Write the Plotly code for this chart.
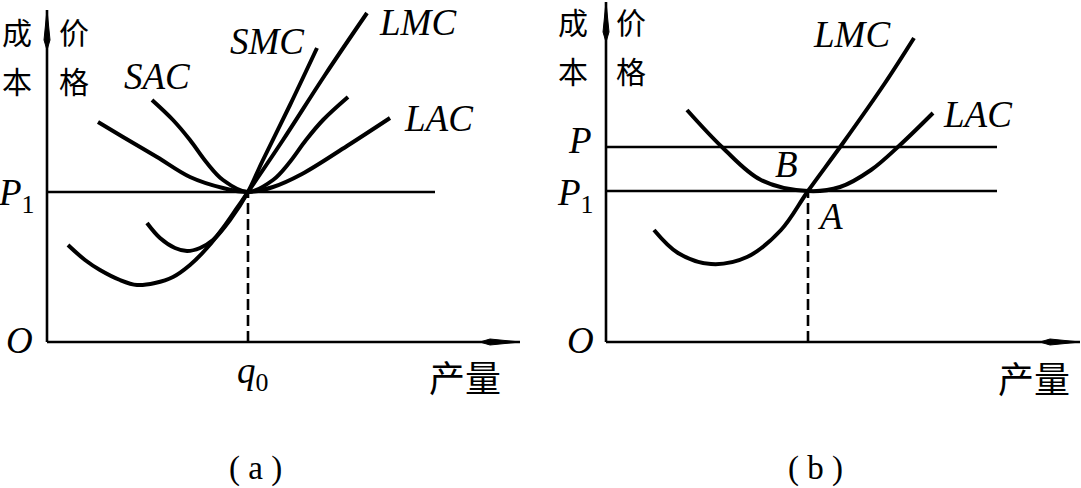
import plotly.graph_objects as go

# ---------------- data (origin O = (0,0); quantity to the right, cost up) -------------
# panel (a)
a_axis_q_max = 473
a_axis_c_max = 332
a_p1 = 150
a_line_end = 388
a_q0 = 201

a_lac_q = [51, 76, 110, 143, 176, 201, 226, 255, 300, 343]
a_lac_c = [220, 205, 185, 165, 154, 150, 155, 168, 196, 224]

a_sac_q = [105, 126, 143, 160, 176, 201, 226, 242, 259, 276, 301]
a_sac_c = [242, 222, 202, 179, 162, 150, 162, 179, 202, 222, 245]

a_smc_q = [100, 113, 128, 140, 153, 166, 183, 201, 215, 243, 270]
a_smc_c = [119, 104, 94, 91, 94, 102, 122, 150, 180, 237, 294]

a_lmc_q = [21, 38, 53, 73, 90, 108, 126, 143, 160, 176, 190, 201, 236, 278, 320]
a_lmc_c = [97, 82, 72, 62, 57, 59, 65, 77, 94, 114, 134, 150, 202, 267, 329]

# panel (b)
b_axis_q_max = 474
b_axis_c_max = 340
b_p = 195
b_p1 = 151
b_line_end = 391
b_qA = 202

b_lac_q = [81, 117, 155, 202, 234, 265, 294, 327]
b_lac_c = [232, 194, 162, 151, 155, 172, 197, 229]

b_lmc_q = [48, 72, 105, 141, 175, 202, 237, 279, 308]
b_lmc_c = [112, 89, 78, 85, 112, 151, 199, 259, 304]

# ---------------- figure ----------------
W, H = 1081, 488
SPLIT = 540
fig = go.Figure()

BLACK = "#000000"
CURVE_W = 4.0
THIN_W = 2.6


def add_line(q, c, xa, ya, width, dash="solid", shape="linear"):
    fig.add_trace(go.Scatter(x=q, y=c, xaxis=xa, yaxis=ya, mode="lines",
                             line=dict(color=BLACK, width=width, dash=dash, shape=shape),
                             hoverinfo="skip", showlegend=False))


def add_panel(xa, ya, qmax, cmax):
    add_line([0, 0], [0, cmax], xa, ya, THIN_W)
    add_line([0, qmax], [0, 0], xa, ya, THIN_W)
    fig.add_shape(type="path", xref=xa, yref=ya,
                  path=f"M 0 {cmax} L 3 {cmax-30} L 0 {cmax-40} L -3 {cmax-30} Z",
                  fillcolor=BLACK, line=dict(color=BLACK, width=1))
    fig.add_shape(type="path", xref=xa, yref=ya,
                  path=f"M {qmax} 0 L {qmax-30} 3 L {qmax-40} 0 L {qmax-30} -3 Z",
                  fillcolor=BLACK, line=dict(color=BLACK, width=1))


# panel (a)
add_panel("x", "y", a_axis_q_max, a_axis_c_max)
add_line([0, a_line_end], [a_p1, a_p1], "x", "y", THIN_W)
add_line([a_q0, a_q0], [0, a_p1], "x", "y", THIN_W, dash="11px,5px")
for q, c in [(a_lac_q, a_lac_c), (a_sac_q, a_sac_c), (a_smc_q, a_smc_c), (a_lmc_q, a_lmc_c)]:
    add_line(q, c, "x", "y", CURVE_W, shape="spline")

# panel (b)
add_panel("x2", "y2", b_axis_q_max, b_axis_c_max)
add_line([0, b_line_end], [b_p, b_p], "x2", "y2", THIN_W)
add_line([0, b_line_end], [b_p1, b_p1], "x2", "y2", THIN_W)
add_line([b_qA, b_qA], [0, b_p1], "x2", "y2", THIN_W, dash="11px,5px")
for q, c in [(b_lac_q, b_lac_c), (b_lmc_q, b_lmc_c)]:
    add_line(q, c, "x2", "y2", CURVE_W, shape="spline")

# ---------------- labels ----------------
SERIF = "Liberation Serif"
CJK = "Noto Sans CJK SC"
LAT = 37
CJKS = 30

labels = [
    # panel a  (x, y, text, family, size, yanchor)
    ("x", "y", -30, 287, "成", CJK, CJKS, "bottom"),
    ("x", "y", -30, 286, "本", CJK, CJKS, "top"),
    ("x", "y", 27, 287, "价", CJK, CJKS, "bottom"),
    ("x", "y", 27, 286, "格", CJK, CJKS, "top"),
    ("x", "y", 110, 266, "<i>SAC</i>", SERIF, LAT, "middle"),
    ("x", "y", 220, 301, "<i>SMC</i>", SERIF, LAT, "middle"),
    ("x", "y", 371, 342, "<i>LMC</i>", SERIF, LAT, "top"),
    ("x", "y", 392, 224, "<i>LAC</i>", SERIF, LAT, "middle"),
    ("x", "y", -31, 147, "<i>P</i><sub>1</sub>", SERIF, LAT, "middle"),
    ("x", "y", -28, 2, "<i>O</i>", SERIF, LAT, "middle"),
    ("x", "y", 205, -31, "<i>q</i><sub>0</sub>", SERIF, LAT, "middle"),
    ("x", "y", 418, -34, "产量", CJK, 36, "middle"),
    ("x", "y", 208, -126, "( a )", SERIF, 33, "middle"),
    # panel b
    ("x2", "y2", -33, 297, "成", CJK, CJKS, "bottom"),
    ("x2", "y2", -33, 296, "本", CJK, CJKS, "top"),
    ("x2", "y2", 25, 297, "价", CJK, CJKS, "bottom"),
    ("x2", "y2", 25, 296, "格", CJK, CJKS, "top"),
    ("x2", "y2", 246, 308, "<i>LMC</i>", SERIF, LAT, "middle"),
    ("x2", "y2", 372, 228, "<i>LAC</i>", SERIF, LAT, "middle"),
    ("x2", "y2", -26, 202, "<i>P</i>", SERIF, LAT, "middle"),
    ("x2", "y2", -31, 147, "<i>P</i><sub>1</sub>", SERIF, LAT, "middle"),
    ("x2", "y2", 180, 178, "<i>B</i>", SERIF, LAT, "middle"),
    ("x2", "y2", 224, 126, "<i>A</i>", SERIF, LAT, "middle"),
    ("x2", "y2", -26, 2, "<i>O</i>", SERIF, LAT, "middle"),
    ("x2", "y2", 428, -35, "产量", CJK, 36, "middle"),
    ("x2", "y2", 209, -126, "( b )", SERIF, 33, "middle"),
]
for xr, yr, x, y, t, fam, size, ya in labels:
    fig.add_annotation(x=x, y=y, xref=xr, yref=yr, text=t, showarrow=False,
                       xanchor="center", yanchor=ya,
                       font=dict(family=fam, size=size, color=BLACK))

# ---------------- layout (1 data unit = 1 pixel) ----------------
axis_common = dict(visible=False, showgrid=False, zeroline=False, fixedrange=True)
fig.update_layout(
    width=W, height=H,
    margin=dict(l=0, r=0, t=0, b=0),
    paper_bgcolor="white", plot_bgcolor="white",
    showlegend=False,
    xaxis=dict(domain=[0, SPLIT / W], range=[-47, SPLIT - 47], **axis_common),
    yaxis=dict(domain=[0, 1], range=[-146, 342], anchor="x", **axis_common),
    xaxis2=dict(domain=[SPLIT / W, 1], range=[-66, W - SPLIT - 66], **axis_common),
    yaxis2=dict(domain=[0, 1], range=[-146, 342], anchor="x2", **axis_common),
)

fig.write_html("out.html")
